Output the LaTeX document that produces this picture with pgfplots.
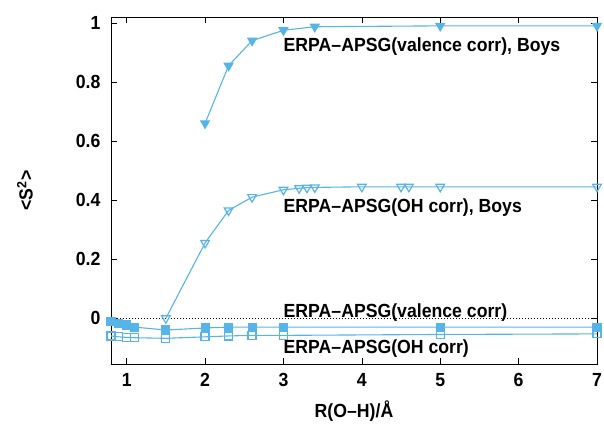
\documentclass[border=0pt]{standalone}
\usepackage{fontspec}
\setmainfont{Liberation Sans}[FakeStretch=0.93]
\usepackage{pgfplots}
\pgfplotsset{compat=1.18}
\definecolor{skyblue}{HTML}{56B4E9}

\begin{document}
\begin{tikzpicture}
\useasboundingbox (-111pt,-65pt) rectangle (493pt,364pt);
\begin{axis}[
    scale only axis,
    width=486pt, height=347pt,
    xmin=0.8, xmax=7,
    ymin=-0.155, ymax=1.02,
    xtick={1,2,3,4,5,6,7},
    ytick={0,0.2,0.4,0.6,0.8,1},
    tick align=inside,
    major tick length=6pt,
    tick style={black, line width=0.6pt},
    axis line style={black, line width=0.8pt},
    font=\fontsize{19}{21}\selectfont\bfseries,
    /pgf/number format/assume math mode=true,
    /pgf/number format/fixed,
    xticklabel style={yshift=-6pt},
    yticklabel style={xshift=-7pt},
    xlabel={R(O--H)/Å},
    ylabel={\textless S\textsuperscript{2}\textgreater},
    xlabel style={at={(axis description cs:0.5,-0.135)}, anchor=center},
    ylabel style={at={(axis description cs:-0.177,0.5)}, anchor=center},
]
  \addplot[black, line width=0.6pt, dash pattern=on 1pt off 2pt] coordinates {(0.8,0) (7,0)};

  % valence corr, Boys
  \addplot[skyblue, line width=1.1pt, mark=triangle*, mark size=5pt,
    mark options={rotate=180, fill=skyblue}] coordinates {
    (2.0,0.66) (2.3,0.855) (2.6,0.94) (3.0,0.975) (3.4,0.987) (5.0,0.99) (7.0,0.99)
  };
  % OH corr, Boys
  \addplot[skyblue, line width=1.1pt, mark=triangle, mark size=5pt,
    mark options={rotate=180, line width=1.2pt}] coordinates {
    (1.5,0.0) (2.0,0.255) (2.3,0.365) (2.6,0.41) (3.0,0.435) (3.2,0.44) (3.3,0.442)
    (3.4,0.443) (4.0,0.445) (4.5,0.445) (4.6,0.445) (5.0,0.445) (7.0,0.445)
  };
  % valence corr
  \addplot[skyblue, line width=1.1pt, mark=square*, mark size=4pt,
    mark options={fill=skyblue}] coordinates {
    (0.8,-0.01) (0.9,-0.017) (1.0,-0.023) (1.1,-0.03) (1.5,-0.04) (2.0,-0.033)
    (2.3,-0.03) (2.6,-0.03) (3.0,-0.03) (5.0,-0.03) (7.0,-0.03)
  };
  % OH corr
  \addplot[skyblue, line width=1.1pt, mark=square, mark size=4pt,
    mark options={line width=1.2pt}] coordinates {
    (0.8,-0.06) (0.9,-0.063) (1.0,-0.065) (1.1,-0.066) (1.5,-0.068) (2.0,-0.063)
    (2.3,-0.06) (2.6,-0.058) (3.0,-0.058) (5.0,-0.055) (7.0,-0.053)
  };

  \node[anchor=base west, inner sep=0pt] at (axis cs:3.0,0.902) {ERPA--APSG(valence corr), Boys};
  \node[anchor=base west, inner sep=0pt] at (axis cs:3.0,0.358) {ERPA--APSG(OH corr), Boys};
  \node[anchor=base west, inner sep=0pt] at (axis cs:3.0,0.003) {ERPA--APSG(valence corr)};
  \node[anchor=base west, inner sep=0pt] at (axis cs:3.0,-0.118) {ERPA--APSG(OH corr)};
\end{axis}
\end{tikzpicture}
\end{document}
